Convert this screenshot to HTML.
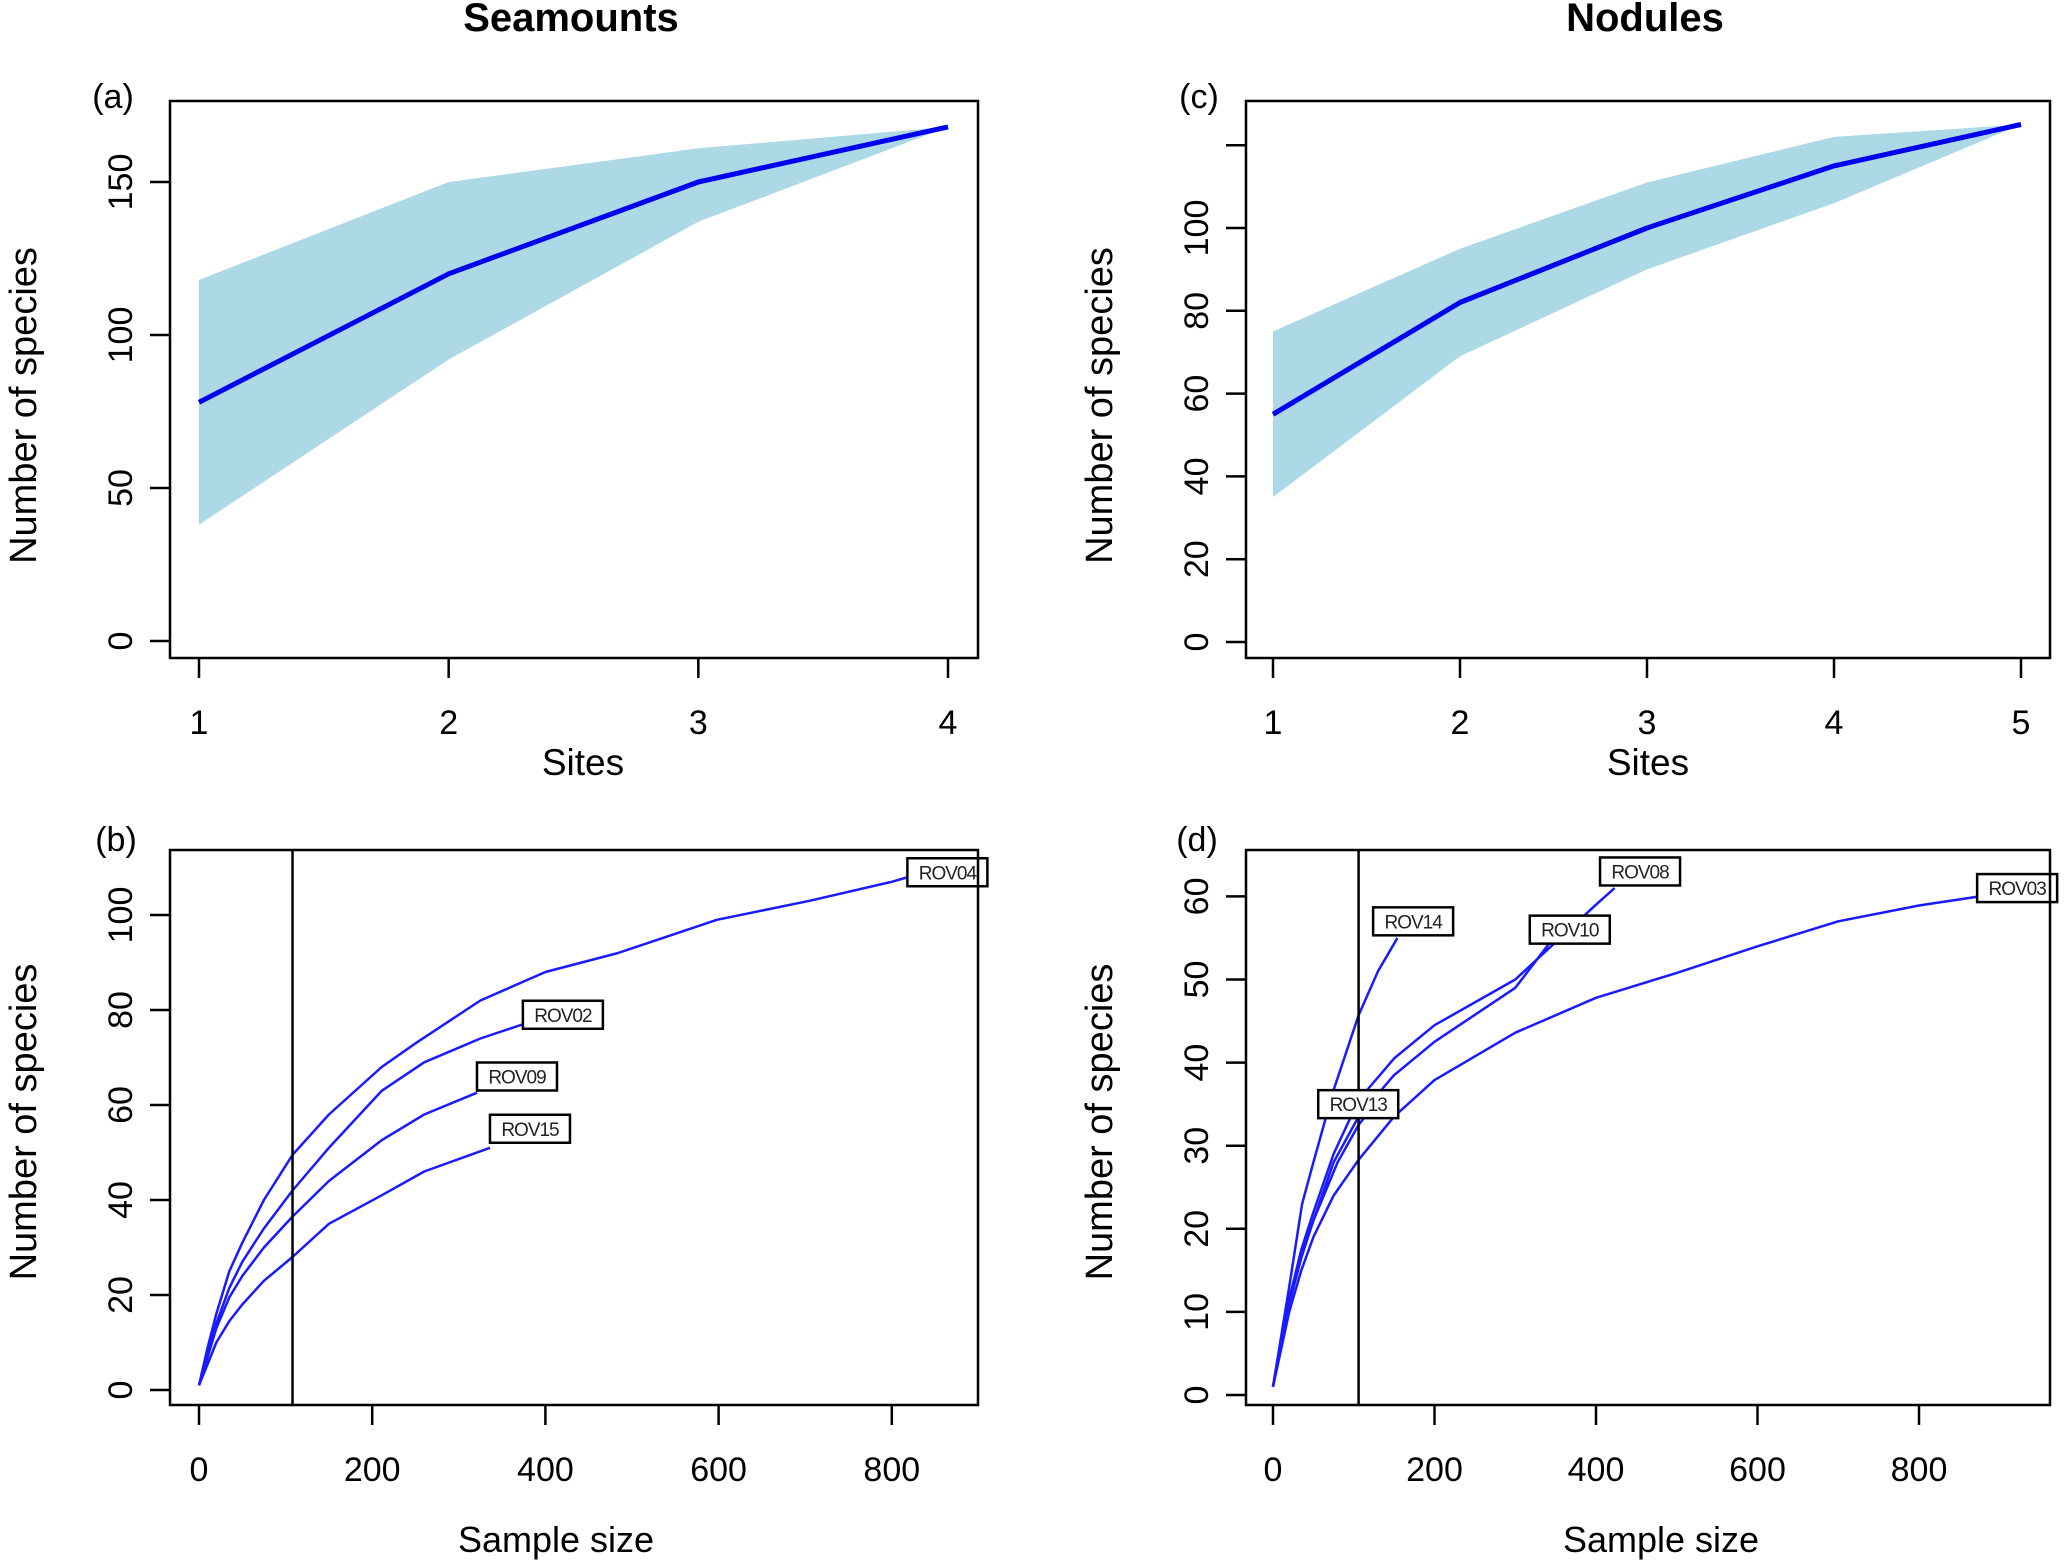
<!DOCTYPE html>
<html><head><meta charset="utf-8">
<style>
html,body{margin:0;padding:0;background:#fff;}
svg{display:block;font-family:"Liberation Sans",Arial,sans-serif;}
</style></head>
<body>
<svg id="fig" width="2067" height="1562" viewBox="0 0 2067 1562" xmlns="http://www.w3.org/2000/svg"></svg>
<script>
// ---- Panel (a) Seamounts sites accumulation ----
const sitesA = [1, 2, 3, 4];
const meanA = [78, 120, 150, 168];
const upperA = [118, 150, 161, 168];
const lowerA = [38, 92, 137, 168];
const yTicksA = [0, 50, 100, 150];
// ---- Panel (c) Nodules sites accumulation ----
const sitesC = [1, 2, 3, 4, 5];
const meanC = [55, 82, 100, 115, 125];
const upperC = [75, 95, 111, 122, 125];
const lowerC = [35, 69, 90, 106, 125];
const yTicksC = [0, 20, 40, 60, 80, 100, 120];
const yLabelsC = ["0", "20", "40", "60", "80", "100", ""];
// ---- Panel (b) Seamount rarefaction ----
const namesB = ["ROV04", "ROV02", "ROV09", "ROV15"];
const xB = [
  [0, 10, 20, 35, 50, 75, 108, 150, 211, 250, 325, 400, 484, 598, 705, 800, 819],
  [0, 10, 20, 35, 50, 75, 108, 150, 211, 260, 325, 374],
  [0, 10, 20, 35, 50, 75, 108, 150, 211, 260, 321],
  [0, 10, 20, 35, 50, 75, 108, 150, 211, 260, 336]
];
const yB = [
  [1, 9, 16, 25, 31, 40, 49.5, 58, 68, 73, 82, 88, 92, 99, 103, 107, 108],
  [1, 8, 14, 21.5, 27, 34, 42, 51, 63, 69, 74, 77],
  [1, 7, 13, 19.5, 24, 30, 36.5, 44, 52.6, 58, 62.6],
  [1, 5.5, 10, 14.5, 18, 23, 28, 35, 41, 46, 51]
];
const labXB = [818, 374, 321, 336];
const labYB = [109, 79, 66, 55];
const rareLineB = 108;
const yTicksB = [0, 20, 40, 60, 80, 100];
const xTicksB = [0, 200, 400, 600, 800];
// ---- Panel (d) Nodule rarefaction ----
const namesD = ["ROV14", "ROV08", "ROV10", "ROV13", "ROV03"];
const xD = [
  [0, 10, 20, 36, 50, 75, 106, 130, 154],
  [0, 10, 20, 35, 50, 75, 106, 150, 200, 300, 400, 423],
  [0, 10, 20, 35, 50, 75, 106, 150, 200, 300, 345],
  [0, 10, 20, 35, 50, 80, 106, 118],
  [0, 10, 20, 35, 50, 75, 106, 150, 200, 300, 400, 500, 600, 700, 800, 875]
];
const yD = [
  [1, 7, 13, 23, 28, 36.7, 45.7, 51, 55],
  [1, 6.5, 11.5, 17.5, 22, 29, 35.5, 40.5, 44.5, 50, 59, 61],
  [1, 6.5, 11.5, 17, 21, 28, 33.5, 38.5, 42.5, 49, 54.7],
  [1, 6, 11, 16.5, 21, 28, 32.5, 34],
  [1, 5.5, 10, 15, 19, 24, 28.3, 33.5, 37.9, 43.6, 47.8, 50.8, 54, 57, 58.9, 60]
];
const labXD = [124, 405, 318, 56, 872];
const labYD = [57, 63, 56, 35, 61];
const rareLineD = 106;
const yTicksD = [0, 10, 20, 30, 40, 50, 60];
const xTicksD = [0, 200, 400, 600, 800];

const NS = "http://www.w3.org/2000/svg";
const svg = document.getElementById("fig");
function mk(tag, attrs, parent) {
  const e = document.createElementNS(NS, tag);
  for (const k in attrs) e.setAttribute(k, attrs[k]);
  (parent || svg).appendChild(e);
  return e;
}
function txt(s, x, y, size, opts, parent) {
  const t = mk("text", Object.assign({x: x, y: y, "font-size": size, "text-anchor": "middle", fill: "#000"}, opts || {}), parent);
  t.textContent = s;
  return t;
}
function scale(d0, d1, p0, p1) { return v => p0 + (v - d0) * (p1 - p0) / (d1 - d0); }

function frame(g, box, xs, ys, xTicks, xLabels, yTicks, yLabels) {
  const r = mk("rect", {x: box.x0, y: box.y0, width: box.x1 - box.x0, height: box.y1 - box.y0, fill: "none", stroke: "#000", "stroke-width": 2.5}, g);
  
  
  xTicks.forEach((v, i) => {
    const x = xs(v);
    const tk = mk("line", {x1: x, x2: x, y1: box.y1, y2: box.y1 + 20, stroke: "#000", "stroke-width": 2.5}, g);
    
    
    const lb = txt(xLabels[i], x, box.y1 + 76, 34, {}, g);
    
    
  });
  yTicks.forEach((v, i) => {
    const y = ys(v);
    const tk = mk("line", {x1: box.x0 - 20, x2: box.x0, y1: y, y2: y, stroke: "#000", "stroke-width": 2.5}, g);
    
    
    const lx = box.x0 - 50;
    const lb = txt(yLabels[i], lx, y + 12, 34, {transform: "rotate(-90 " + lx + " " + y + ")"}, g);
    
    
  });
}
function pathOf(xsArr, ysArr, xs, ys) {
  return xsArr.map((v, i) => (i ? "L" : "M") + xs(v).toFixed(1) + "," + ys(ysArr[i]).toFixed(1)).join(" ");
}

// Titles
const t1 = txt("Seamounts", 571, 31, 40, {"font-weight": "bold"});


const t2 = txt("Nodules", 1645, 31, 40, {"font-weight": "bold"});



function accumPanel(name, letter, box, sites, mean, upper, lower, x0, x1, yTicks, yLabels, letterX, yTitleX) {
  const g = mk("g", {});
  
  
  const xs = scale(sites[0], sites[sites.length - 1], x0, x1);
  const ys = scale(0, yTicks[1], box.yZero, box.yTick1);
  let d = pathOf(sites, upper, xs, ys);
  for (let i = sites.length - 1; i >= 0; i--) d += " L" + xs(sites[i]).toFixed(1) + "," + ys(lower[i]).toFixed(1);
  const band = mk("path", {d: d + " Z", fill: "#add8e6", stroke: "none"}, g);
  
  
  const ln = mk("path", {d: pathOf(sites, mean, xs, ys), fill: "none", stroke: "#0000ee", "stroke-width": 5, "stroke-linejoin": "round"}, g);
  
  
  frame(g, box, xs, ys, sites, sites.map(String), yTicks, yLabels);
  const lt = txt("(" + letter + ")", letterX, 108, 34, {}, g);
  
  
  const xt = txt("Sites", (box.x0 + box.x1) / 2 + (letter === "a" ? 9 : 0), 775, 37, {}, g);
  
  
  const cy = (box.y0 + box.y1) / 2 + 26;
  const yt = txt("Number of species", yTitleX, cy, 38, {transform: "rotate(-90 " + yTitleX + " " + cy + ")"}, g);
  
  
}
accumPanel("panel-a", "a", {x0: 170, x1: 978, y0: 101, y1: 658, yZero: 641, yTick1: 488}, sitesA, meanA, upperA, lowerA, 199, 948, yTicksA, yTicksA.map(String), 113, 36);
accumPanel("panel-c", "c", {x0: 1246, x1: 2050, y0: 101, y1: 658, yZero: 642, yTick1: 559.2}, sitesC, meanC, upperC, lowerC, 1273, 2021, yTicksC, yLabelsC, 1199, 1112);

function rarePanel(name, letter, box, names, xArr, yArr, labX, labY, vline, xTicks, yTicks, xZero, xTick1, yZero, yTick1, letterX, yTitleX) {
  const g = mk("g", {});
  
  
  const xs = scale(0, xTicks[1], xZero, xTick1);
  const ys = scale(0, yTicks[1], yZero, yTick1);
  names.forEach((n, i) => {
    const p = mk("path", {d: pathOf(xArr[i], yArr[i], xs, ys), fill: "none", stroke: "#1a1aff", "stroke-width": 2.5, "stroke-linejoin": "round"}, g);
    
    
  });
  const vl = mk("line", {x1: xs(vline), x2: xs(vline), y1: box.y0, y2: box.y1, stroke: "#000", "stroke-width": 2.5}, g);
  
  
  names.forEach((n, i) => {
    const lx = xs(labX[i]), ly = ys(labY[i]);
    const r = mk("rect", {x: lx, y: ly - 14, width: 80, height: 28, fill: "#fff", stroke: "#000", "stroke-width": 2.5}, g);
    
    
    const t = txt(n, lx + 40, ly + 7, 19, {fill: "#222", "letter-spacing": "-1"}, g);
    
    
  });
  frame(g, box, xs, ys, xTicks, xTicks.map(String), yTicks, yTicks.map(String));
  const lt = txt("(" + letter + ")", letterX, 851, 34, {}, g);
  
  
  const xt = txt("Sample size", letter === "b" ? 556 : 1661, 1552, 36, {}, g);
  
  
  const cy = 1122;
  const yt = txt("Number of species", yTitleX, cy, 38, {transform: "rotate(-90 " + yTitleX + " " + cy + ")"}, g);
  
  
}
rarePanel("panel-b", "b", {x0: 170, x1: 978, y0: 850, y1: 1405}, namesB, xB, yB, labXB, labYB, rareLineB, xTicksB, yTicksB, 199, 372.2, 1390, 1295, 116, 36);
rarePanel("panel-d", "d", {x0: 1246, x1: 2050, y0: 850, y1: 1405}, namesD, xD, yD, labXD, labYD, rareLineD, xTicksD, yTicksD, 1273, 1434.5, 1395, 1311.9, 1197, 1112);
</script>
</body></html>
